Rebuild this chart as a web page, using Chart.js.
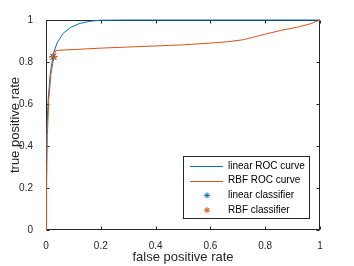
<!DOCTYPE html>
<html>
<head>
<meta charset="utf-8">
<script src="https://cdn.jsdelivr.net/npm/chart.js@4.4.0/dist/chart.umd.min.js"></script>
<style>
  html, body { margin: 0; padding: 0; background: #fff; }
  #wrap { width: 354px; height: 266px; }
</style>
</head>
<body>
<div id="wrap"><canvas id="roc" width="354" height="266"></canvas></div>
<script>
// ROC curves
const linearFpr = [0, 0.001, 0.003, 0.008, 0.015, 0.027, 0.04, 0.063, 0.09, 0.124, 0.16, 0.2, 0.3, 1];
const linearTpr = [0, 0.2, 0.45, 0.62, 0.74, 0.84, 0.89, 0.937, 0.965, 0.984, 0.994, 0.999, 1, 1];

const rbfFpr = [0, 0.002, 0.005, 0.01, 0.018, 0.028, 0.035, 0.2, 0.35, 0.49, 0.6, 0.66, 0.72, 0.78, 0.855, 0.915, 0.963, 1];
const rbfTpr = [0, 0.2, 0.45, 0.62, 0.74, 0.82, 0.855, 0.866, 0.874, 0.881, 0.89, 0.896, 0.906, 0.926, 0.95, 0.965, 0.981, 1];

// operating points of the two classifiers
const linearPoint = [0.026, 0.824];
const rbfPoint = [0.028, 0.826];

const tickValues = [0, 0.2, 0.4, 0.6, 0.8, 1];
const seriesNames = ['linear ROC curve', 'RBF ROC curve', 'linear classifier', 'RBF classifier'];

const BLUE = '#0072BD';
const ORANGE = '#D95319';
const AXIS = '#262626';
const FONT = '"Liberation Sans", Arial, sans-serif';

const toXY = (xs, ys) => xs.map((x, i) => ({ x: x, y: ys[i] }));

function drawStar(ctx, x, y, r, color) {
  ctx.save();
  ctx.strokeStyle = color;
  ctx.lineWidth = 1;
  ctx.beginPath();
  for (let k = 0; k < 4; k++) {
    const a = k * Math.PI / 4;
    ctx.moveTo(x - r * Math.cos(a), y - r * Math.sin(a));
    ctx.lineTo(x + r * Math.cos(a), y + r * Math.sin(a));
  }
  ctx.stroke();
  ctx.restore();
}

// box with inward ticks, matlab style
const boxAxes = {
  id: 'boxAxes',
  beforeDatasetsDraw(chart) {
    const { ctx, chartArea: a, scales } = chart;
    const L = Math.round(a.left) + 0.5, R = Math.round(a.right) - 0.5;
    const T = Math.round(a.top) + 0.5, B = Math.round(a.bottom) - 0.5;
    ctx.save();
    ctx.strokeStyle = AXIS;
    ctx.lineWidth = 1;
    ctx.strokeRect(L, T, R - L, B - T);
    ctx.beginPath();
    tickValues.forEach(v => {
      const px = Math.round(scales.x.getPixelForValue(v)) + 0.5;
      ctx.moveTo(px, B); ctx.lineTo(px, B - 3);
      ctx.moveTo(px, T); ctx.lineTo(px, T + 3);
      const py = Math.round(scales.y.getPixelForValue(v)) + 0.5;
      ctx.moveTo(L, py); ctx.lineTo(L + 3, py);
      ctx.moveTo(R, py); ctx.lineTo(R - 3, py);
    });
    ctx.stroke();
    ctx.restore();
  }
};

// legend drawn inside the axes, lower right
const insideLegend = {
  id: 'insideLegend',
  afterDraw(chart) {
    const { ctx } = chart;
    const x0 = 183.5, y0 = 156.5, w = 126, h = 62;
    ctx.save();
    ctx.fillStyle = '#fff';
    ctx.fillRect(x0, y0, w, h);
    ctx.strokeStyle = AXIS;
    ctx.lineWidth = 1;
    ctx.strokeRect(x0, y0, w, h);
    ctx.font = '10px ' + FONT;
    ctx.textBaseline = 'middle';
    chart.data.datasets.forEach((ds, i) => {
      const y = 166 + i * 14.7;
      if (ds.showLine) {
        ctx.strokeStyle = ds.borderColor;
        ctx.beginPath();
        ctx.moveTo(190, Math.round(y) + 0.5);
        ctx.lineTo(223, Math.round(y) + 0.5);
        ctx.stroke();
      } else {
        drawStar(ctx, 207, y, 3, ds.borderColor);
      }
      ctx.fillStyle = '#000';
      ctx.fillText(ds.label, 228, y);
    });
    ctx.restore();
  }
};

new Chart(document.getElementById('roc'), {
  type: 'scatter',
  data: {
    datasets: [
      { label: seriesNames[0], data: toXY(linearFpr, linearTpr), showLine: true,
        borderColor: BLUE, borderWidth: 1, pointRadius: 0, order: 4, clip: 3 },
      { label: seriesNames[1], data: toXY(rbfFpr, rbfTpr), showLine: true,
        borderColor: ORANGE, borderWidth: 1, pointRadius: 0, order: 3, clip: 3 },
      { label: seriesNames[2], data: [{ x: linearPoint[0], y: linearPoint[1] }], showLine: false,
        borderColor: BLUE, backgroundColor: BLUE, pointStyle: 'star', pointRadius: 4, borderWidth: 1, order: 2, clip: 6 },
      { label: seriesNames[3], data: [{ x: rbfPoint[0], y: rbfPoint[1] }], showLine: false,
        borderColor: ORANGE, backgroundColor: ORANGE, pointStyle: 'star', pointRadius: 4, borderWidth: 1, order: 1, clip: 6 }
    ]
  },
  options: {
    responsive: false,
    animation: false,
    layout: { padding: { left: 0, top: 20, right: 34, bottom: 0 } },
    plugins: { legend: { display: false }, tooltip: { enabled: false } },
    scales: {
      x: {
        type: 'linear', min: 0, max: 1,
        grid: { display: false },
        border: { display: false },
        afterBuildTicks: s => { s.ticks = tickValues.map(v => ({ value: v })); },
        afterFit: s => { s.height = 36; },
        ticks: { padding: 2, color: AXIS, maxRotation: 0,
          font: { family: FONT, size: 10 },
          callback: v => String(v) },
        title: { display: true, text: 'false positive rate', color: AXIS,
          font: { family: FONT, size: 13 },
          padding: { top: 0, bottom: 1 } }
      },
      y: {
        type: 'linear', min: 0, max: 1,
        grid: { display: false },
        border: { display: false },
        afterBuildTicks: s => { s.ticks = tickValues.map(v => ({ value: v })); },
        afterFit: s => { s.width = 46; },
        ticks: { padding: 5, color: AXIS,
          font: { family: FONT, size: 10 },
          callback: v => String(v) },
        title: { display: true, text: 'true positive rate', color: AXIS,
          font: { family: FONT, size: 13 },
          padding: { top: 8, bottom: 0 } }
      }
    }
  },
  plugins: [boxAxes, insideLegend]
});
</script>
</body>
</html>
